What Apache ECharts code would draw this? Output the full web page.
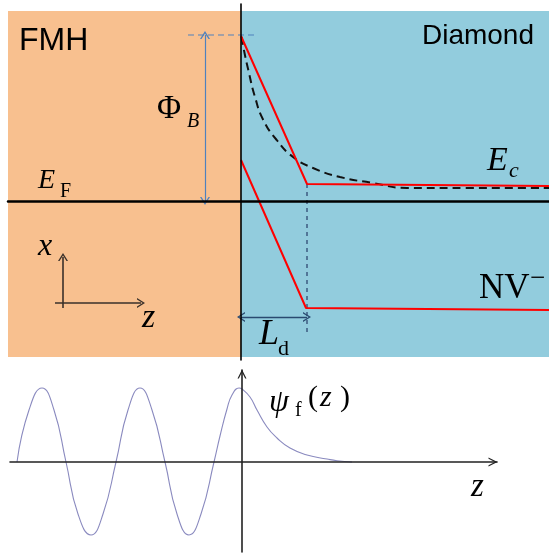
<!DOCTYPE html>
<html><head><meta charset="utf-8">
<script src="https://cdn.jsdelivr.net/npm/echarts@6/dist/echarts.min.js"></script>
<style>html,body{margin:0;padding:0;background:#fff}#c{width:549px;height:554px}</style>
</head><body><div id="c"></div>
<script>
// ---------- Top panel: band diagram (z: distance from interface, E: energy, E_F = 0) ----------
const regionNames = ['FMH', 'Diamond'];
const regionZ = [[-233, 0], [0, 308]];
const regionE = [190, -156];
const ecZ = [0, 66, 308];
const ecE = [165, 17, 15];
const nvZ = [0, 65, 308];
const nvE = [41, -107, -109];
const ecCurveZ = [0.5, 2.3, 7.3, 14, 22.3, 35.7, 52, 72, 99, 132, 166, 222, 308];
const ecCurveE = [164, 154, 131, 104, 81, 61, 44, 33, 24, 18, 13, 13, 13];
const phiB = 166;          // barrier height
const phiArrowZ = -36;     // z of the Phi_B arrow
const phiGuideZ = [-53, 17];
const Ld = 66;             // depletion length
const LdArrowE = -116;
const LdGuideE = [17, -131];
const frameZ = -178;       // small x/z coordinate frame
const frameE = [-56, -107];
const frameHZ = [-186, -100];
const frameHE = -102;

// ---------- Bottom panel: wavefunction psi_f(z) ----------
const waveZ = [-225, -213, -200, -188, -176, -164, -151, -139, -126, -114, -102, -90, -77, -65, -53, -41, -28, -22, -15, -10, -3, 0, 8, 15, 25, 35, 48, 65, 85, 95, 110];
const waveV = [0, 52, 74, 52, 0, -52, -73, -52, 0, 52, 74, 52, 0, -52, -73, -52, 0, 26, 53, 67, 74, 73, 65, 52, 35, 24, 14, 7, 3, 1.3, 0];

const zip = (a, b) => a.map((v, i) => [v, b[i]]);
const chevron = 'path://M0,10 L5,0 L10,10 L8.5,10 L5,3 L1.5,10 Z';
const serif = '"Liberation Serif", "DejaVu Serif", serif';
const sans = '"Liberation Sans", Arial, sans-serif';

const chart = echarts.init(document.getElementById('c'), null, {renderer: 'canvas'});
const hiddenAxis = {axisTick: {show: false}, axisLabel: {show: false}, splitLine: {show: false}};

function txt(text, x, y, font, align) {
  return {type: 'text', z: 100, silent: true,
    style: {text: text, x: x, y: y, font: font, fill: '#000', align: align || 'left', verticalAlign: 'middle'}};
}

chart.setOption({
  animation: false,
  backgroundColor: '#fff',
  grid: [
    {left: 8, right: 0, top: 4, height: 356},
    {left: 10, width: 487, top: 370, height: 182}
  ],
  xAxis: [
    Object.assign({type: 'value', gridIndex: 0, min: -233, max: 308, z: 10,
      axisLine: {onZero: true, lineStyle: {color: '#000', width: 2.5}}}, hiddenAxis),
    Object.assign({type: 'value', gridIndex: 1, min: -232, max: 255, z: 10,
      axisLine: {onZero: true, symbol: ['none', chevron], symbolSize: [10, 9], symbolOffset: [0, -4],
        lineStyle: {color: '#222', width: 1.6}}}, hiddenAxis)
  ],
  yAxis: [
    Object.assign({type: 'value', gridIndex: 0, min: -159, max: 197, z: 10,
      axisLine: {onZero: true, lineStyle: {color: '#000', width: 1.6}}}, hiddenAxis),
    Object.assign({type: 'value', gridIndex: 1, min: -90, max: 92, z: 10,
      axisLine: {onZero: true, symbol: ['none', chevron], symbolSize: [10, 9], symbolOffset: [0, -4],
        lineStyle: {color: '#222', width: 1.6}}}, hiddenAxis)
  ],
  series: [
    { // background regions
      type: 'line', xAxisIndex: 0, yAxisIndex: 0, z: 1, data: [], silent: true,
      markArea: {silent: true, label: {show: false},
        data: [
          [{name: regionNames[0], xAxis: regionZ[0][0], yAxis: regionE[0], itemStyle: {color: '#F8C08F', opacity: 1}},
           {xAxis: regionZ[0][1], yAxis: regionE[1]}],
          [{name: regionNames[1], xAxis: regionZ[1][0], yAxis: regionE[0], itemStyle: {color: '#92CCDD', opacity: 1}},
           {xAxis: regionZ[1][1], yAxis: regionE[1]}]
        ]}
    },
    {type: 'line', xAxisIndex: 0, yAxisIndex: 0, z: 4, symbol: 'none', silent: true,
      data: zip(ecCurveZ, ecCurveE), smooth: 0.5,
      lineStyle: {color: '#111', width: 2, type: [8, 5]}},
    {type: 'line', xAxisIndex: 0, yAxisIndex: 0, z: 5, symbol: 'none', silent: true,
      data: zip(ecZ, ecE), lineStyle: {color: '#FF0000', width: 2}},
    {type: 'line', xAxisIndex: 0, yAxisIndex: 0, z: 5, symbol: 'none', silent: true,
      data: zip(nvZ, nvE), lineStyle: {color: '#FF0000', width: 2}},
    {type: 'line', xAxisIndex: 0, yAxisIndex: 0, z: 3, symbol: 'none', silent: true,
      data: [[phiGuideZ[0], phiB], [phiGuideZ[1], phiB]], lineStyle: {color: '#4F81BD', width: 1, type: [6, 4]}},
    {type: 'line', xAxisIndex: 0, yAxisIndex: 0, z: 3, symbol: 'none', silent: true,
      data: [[Ld, LdGuideE[0]], [Ld, LdGuideE[1]]], lineStyle: {color: '#3C5A80', width: 1.5, type: [4, 4]},
      markLine: {silent: true, animation: false, label: {show: false}, emphasis: {disabled: true},
        symbol: [chevron, chevron], symbolSize: [10, 8],
        data: [
          [{coord: [phiArrowZ, phiB], lineStyle: {color: '#4F81BD', width: 1.2, type: 'solid'}}, {coord: [phiArrowZ, 0]}],
          [{coord: [0, LdArrowE], lineStyle: {color: '#2A4A70', width: 1.4, type: 'solid'}}, {coord: [Ld, LdArrowE]}],
          [{coord: [frameZ, frameE[1]], symbol: 'none', lineStyle: {color: '#3A302A', width: 1.6, type: 'solid'}}, {coord: [frameZ, frameE[0]], symbol: chevron}],
          [{coord: [frameHZ[0], frameHE], symbol: 'none', lineStyle: {color: '#3A302A', width: 1.6, type: 'solid'}}, {coord: [frameHZ[1], frameHE], symbol: chevron}]
        ]}
    },
    {type: 'line', xAxisIndex: 1, yAxisIndex: 1, z: 3, symbol: 'none', silent: true,
      data: zip(waveZ, waveV), smooth: 0.5,
      lineStyle: {color: '#8A8ABF', width: 1.1}}
  ],
  graphic: [
    txt('FMH', 19, 41, '32px ' + sans),
    txt('Diamond', 534, 36, '28px ' + sans, 'right'),
    txt('Φ', 157, 109, '33px ' + serif),
    txt('B', 187, 122, 'italic 20px ' + serif),
    txt('E', 38, 181, 'italic 28px ' + serif),
    txt('F', 60, 192, '20px ' + serif),
    txt('E', 487, 161, 'italic 34px ' + serif),
    txt('c', 509, 171, 'italic 22px ' + serif),
    txt('NV', 479, 289, '35px ' + serif),
    txt('−', 530, 279, '27px ' + serif),
    txt('L', 259, 335, 'italic 36px ' + serif),
    txt('d', 278, 349, '22px ' + serif),
    txt('x', 38, 247, 'italic 32px ' + serif),
    txt('z', 142, 318, 'italic 34px ' + serif),
    txt('ψ', 269, 403, 'italic 32px ' + serif),
    txt('f', 295, 411, '20px ' + serif),
    txt('(', 308, 398, '30px ' + serif),
    txt('z', 320, 398, 'italic 30px ' + serif),
    txt(')', 340, 398, '30px ' + serif),
    txt('z', 471, 487, 'italic 33px ' + serif)
  ]
});
</script></body></html>
